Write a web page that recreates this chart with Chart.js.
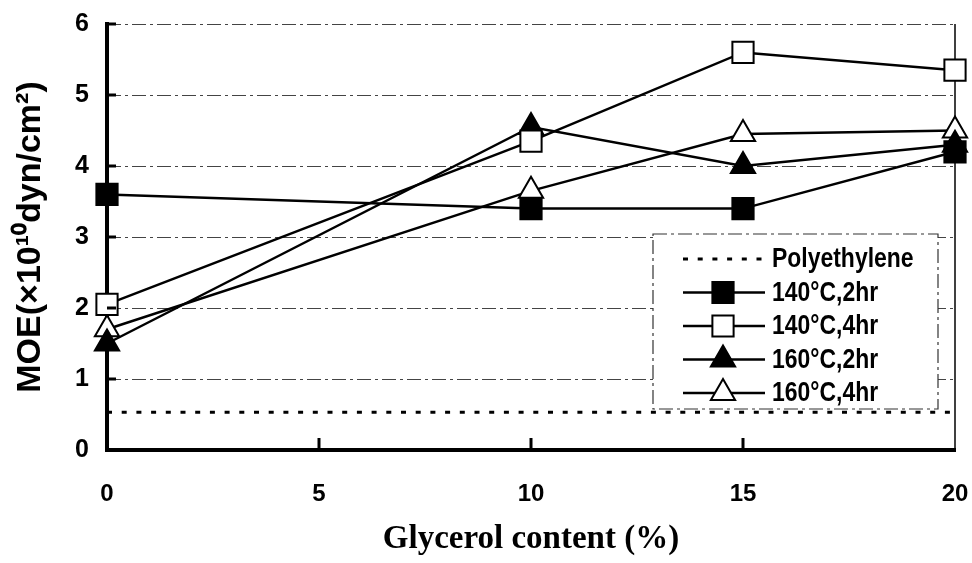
<!DOCTYPE html>
<html>
<head>
<meta charset="utf-8">
<script src="https://cdn.jsdelivr.net/npm/chart.js@4/dist/chart.umd.min.js"></script>
<style>
  html, body { margin: 0; padding: 0; background: #fff; }
  canvas { display: block; }
</style>
</head>
<body>
<canvas id="moe" width="972" height="563"></canvas>
<script>
// glycerol content (%) and MOE (x10^10 dyn/cm2)
const glycerol = [0, 10, 15, 20]
const moe140c2hr = [3.6, 3.4, 3.4, 4.2]
const moe140c4hr = [2.05, 4.35, 5.6, 5.35]
const moe160c2hr = [1.5, 4.55, 4.0, 4.3]
const moe160c4hr = [1.7, 3.65, 4.45, 4.5]
const polyX = [0, 20]
const polyMOE = [0.53, 0.53]
const xTicks = [0, 5, 10, 15, 20]
const yTicks = [0, 1, 2, 3, 4, 5, 6]

const sans = '"Liberation Sans", Arial, Helvetica, sans-serif'

function pairs(xs, ys) {
    return xs.map((x, i) => ({ x: x, y: ys[i] }))
}

function series(label, values, style, filled, radius) {
    return {
        label: label,
        data: pairs(glycerol, values),
        borderColor: '#000',
        borderWidth: 2.5,
        pointStyle: style,
        pointRadius: radius,
        pointBorderWidth: 2,
        pointBorderColor: '#000',
        pointBackgroundColor: filled ? '#000' : '#fff',
        tension: 0,
        clip: false
    }
}

// same shapes chart.js uses for 'rect' and 'triangle'
function drawMarker(ctx, style, x, y, r, fill) {
    ctx.beginPath()
    if (style === 'rect') {
        const s = r * Math.SQRT1_2
        ctx.rect(x - s, y - s, 2 * s, 2 * s)
    } else {
        ctx.moveTo(x, y - r)
        ctx.lineTo(x + r * Math.sin(Math.PI / 3), y + r / 2)
        ctx.lineTo(x - r * Math.sin(Math.PI / 3), y + r / 2)
        ctx.closePath()
    }
    ctx.fillStyle = fill
    ctx.fill()
    ctx.lineWidth = 2
    ctx.strokeStyle = '#000'
    ctx.stroke()
}

const framePlugin = {
    id: 'frame',
    beforeDatasetsDraw(chart) {
        // dash-dot grid lines and the thin right frame
        const ctx = chart.ctx
        const ys = chart.scales.y
        const a = chart.chartArea
        ctx.save()
        ctx.strokeStyle = '#444'
        ctx.lineWidth = 1.2
        ctx.setLineDash([14, 4, 3, 4])
        yTicks.slice(1).forEach(v => {
            const py = Math.round(ys.getPixelForValue(v)) + 0.5
            ctx.beginPath()
            ctx.moveTo(a.left, py)
            ctx.lineTo(a.right, py)
            ctx.stroke()
        })
        ctx.setLineDash([])
        ctx.strokeStyle = '#000'
        ctx.lineWidth = 1.5
        ctx.beginPath()
        ctx.moveTo(a.right, a.top)
        ctx.lineTo(a.right, a.bottom)
        ctx.stroke()
        ctx.restore()
    },
    afterDraw(chart) {
        const ctx = chart.ctx
        const xs = chart.scales.x
        const ys = chart.scales.y
        const a = chart.chartArea
        ctx.save()
        // inner tick marks
        ctx.strokeStyle = '#000'
        ctx.lineWidth = 3
        xTicks.slice(1, -1).forEach(v => {
            const px = xs.getPixelForValue(v)
            ctx.beginPath()
            ctx.moveTo(px, a.bottom)
            ctx.lineTo(px, a.bottom - 12)
            ctx.stroke()
        })
        yTicks.slice(1).forEach(v => {
            const py = ys.getPixelForValue(v)
            ctx.beginPath()
            ctx.moveTo(a.left, py)
            ctx.lineTo(a.left + 9, py)
            ctx.stroke()
        })

        // legend box inside the plot
        const box = { left: 653, top: 234, right: 938, bottom: 409 }
        ctx.fillStyle = '#fff'
        ctx.fillRect(box.left, box.top, box.right - box.left, box.bottom - box.top)
        ctx.lineWidth = 1.2
        ctx.strokeStyle = '#333'
        ctx.setLineDash([14, 4, 3, 4])
        ctx.strokeRect(box.left, box.top, box.right - box.left, box.bottom - box.top)
        ctx.setLineDash([])
        ctx.textBaseline = 'middle'
        chart.data.datasets.forEach((ds, i) => {
            const cy = 259 + i * 33.5
            ctx.strokeStyle = '#000'
            ctx.lineWidth = ds.borderWidth
            ctx.setLineDash(ds.borderDash || [])
            ctx.beginPath()
            ctx.moveTo(683, cy)
            ctx.lineTo(765, cy)
            ctx.stroke()
            ctx.setLineDash([])
            if (ds.pointRadius > 0) {
                drawMarker(ctx, ds.pointStyle, 723, cy, ds.pointRadius, ds.pointBackgroundColor)
            }
            // condensed label text
            ctx.save()
            ctx.translate(772, cy + 1)
            ctx.scale(0.85, 1)
            ctx.fillStyle = '#000'
            ctx.font = 'bold 27px ' + sans
            ctx.fillText(ds.label, 0, 0)
            ctx.restore()
        })
        ctx.restore()
    }
}

new Chart(document.getElementById('moe'), {
    type: 'line',
    data: {
        datasets: [
            {
                label: 'Polyethylene',
                data: pairs(polyX, polyMOE),
                borderColor: '#000',
                borderWidth: 3,
                borderDash: [5, 9.7],
                pointRadius: 0
            },
            series('140°C,2hr', moe140c2hr, 'rect', true, 15),
            series('140°C,4hr', moe140c4hr, 'rect', false, 15),
            series('160°C,2hr', moe160c2hr, 'triangle', true, 14),
            series('160°C,4hr', moe160c4hr, 'triangle', false, 14)
        ]
    },
    options: {
        responsive: false,
        animation: false,
        layout: { padding: { top: 24, right: 17, left: 0, bottom: 0 } },
        plugins: {
            legend: { display: false },
            tooltip: { enabled: false }
        },
        scales: {
            x: {
                type: 'linear',
                min: 0,
                max: 20,
                afterFit: scale => {
                    scale.height = 113
                    scale.paddingLeft = 0
                    scale.paddingRight = 0
                },
                afterBuildTicks: scale => { scale.ticks = xTicks.map(v => ({ value: v })) },
                grid: { display: false, drawTicks: false },
                border: { display: true, color: '#000', width: 4 },
                ticks: {
                    color: '#000',
                    padding: 30,
                    font: { family: sans, size: 24, weight: 'bold' }
                },
                title: {
                    display: true,
                    text: 'Glycerol content (%)',
                    color: '#000',
                    padding: { top: 2 },
                    font: { family: '"Liberation Serif", "Times New Roman", serif', size: 33, weight: 'bold' }
                }
            },
            y: {
                type: 'linear',
                min: 0,
                max: 6,
                afterFit: scale => {
                    scale.width = 107
                    scale.paddingTop = 0
                    scale.paddingBottom = 0
                },
                afterBuildTicks: scale => { scale.ticks = yTicks.map(v => ({ value: v })) },
                grid: { display: false, drawTicks: false },
                border: { display: true, color: '#000', width: 4 },
                ticks: {
                    color: '#000',
                    padding: 18,
                    font: { family: sans, size: 25, weight: 'bold' }
                },
                title: {
                    display: true,
                    text: 'MOE(×10¹⁰dyn/cm²)',
                    color: '#000',
                    padding: { top: 10, bottom: 0 },
                    font: { family: sans, size: 34, weight: 'bold' }
                }
            }
        }
    },
    plugins: [framePlugin]
})
</script>
</body>
</html>
